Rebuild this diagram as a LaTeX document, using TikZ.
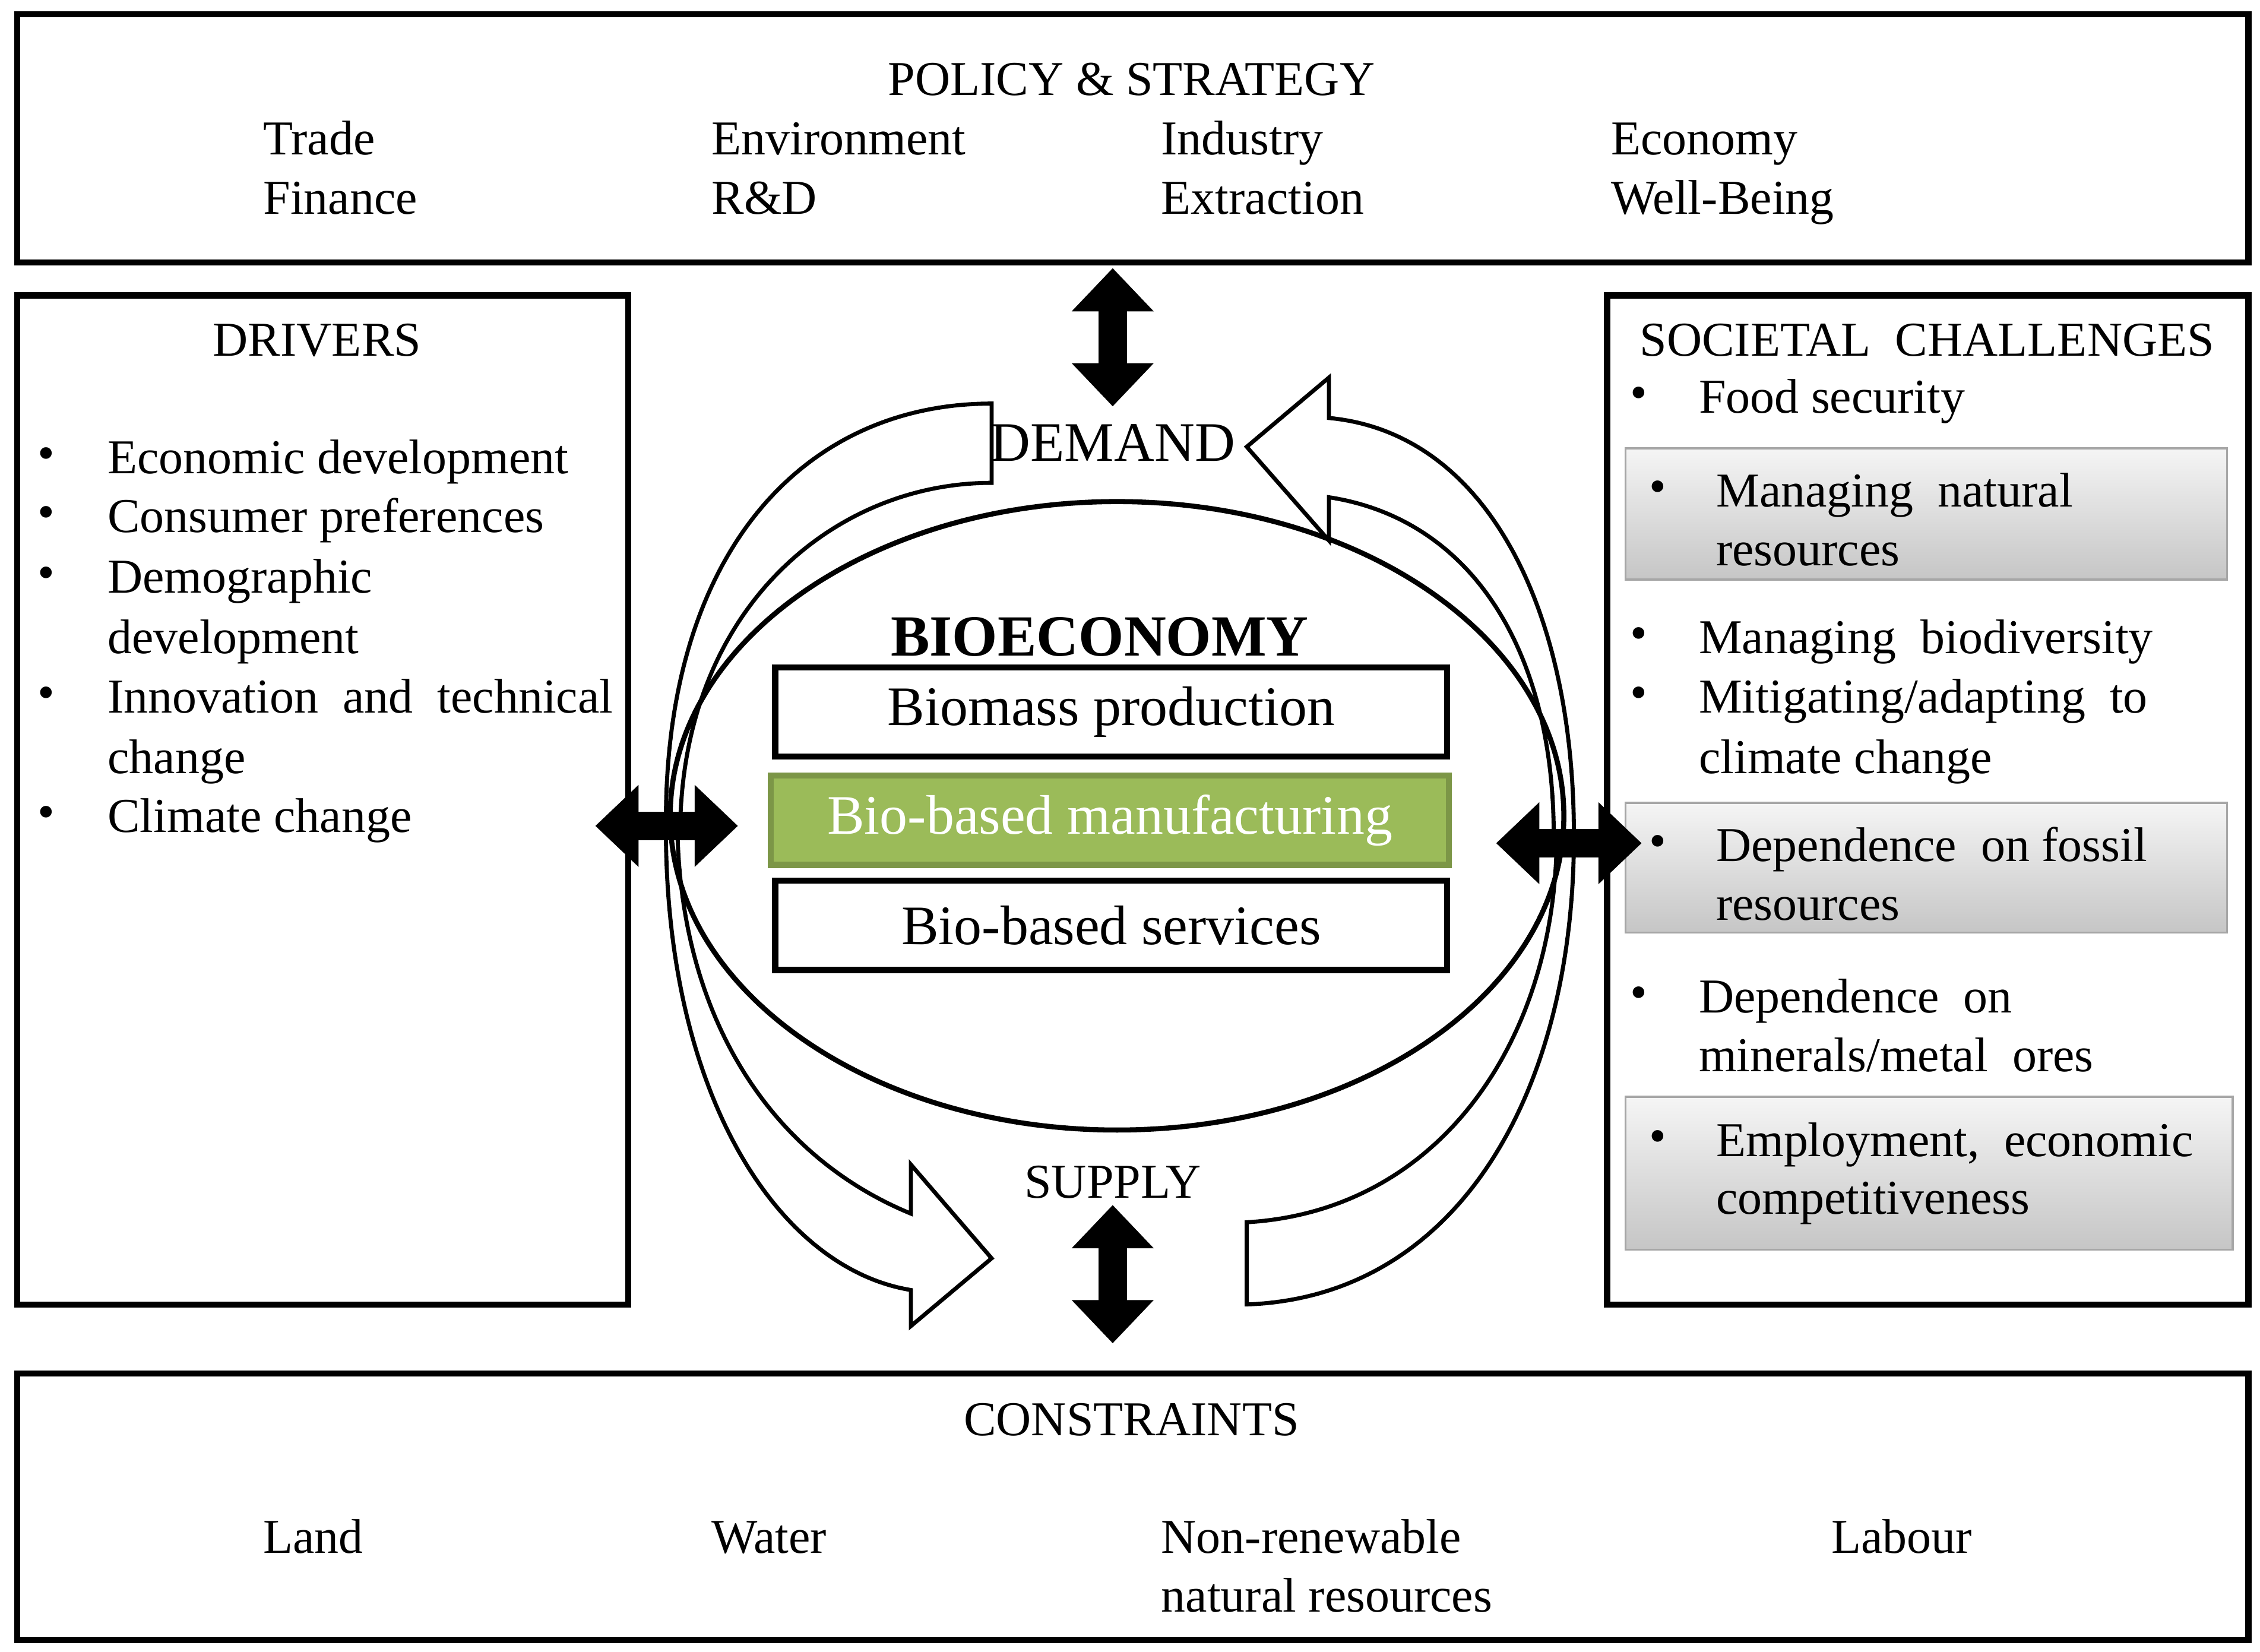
\documentclass[tikz,border=0pt]{standalone}
\usepackage{fontspec}
\setmainfont{Liberation Serif}
\usetikzlibrary{arrows.meta,positioning,shapes.geometric}
\definecolor{bioGreen}{RGB}{155,187,89}
\tikzset{
    % boxes
    frame/.style={draw=black, line width=1.2pt},
    txt/.style={anchor=base west, inner sep=0pt, yshift=-0.105cm, font=\fontsize{9.6}{12}\selectfont},
    head/.style={inner sep=0pt, font=\fontsize{9.6}{12}\selectfont},
    bul/.style={anchor=center, inner sep=0pt, font=\fontsize{9.6}{12}\selectfont},
    sector/.style={draw=black, line width=1.2pt, minimum width=4.66cm, minimum height=0.62cm,
        font=\fontsize{11}{13}\selectfont, inner sep=0pt},
    challenge/.style={draw=gray!70, top color=gray!8, bottom color=gray!45, inner sep=0pt},
    band/.style={draw=black, line width=0.8pt, fill=white},
    flow/.style={line width=2mm, {Triangle[length=3mm,width=5.5mm]}-{Triangle[length=3mm,width=5.5mm]}}
}
\begin{document}
\begin{tikzpicture}[x=0.01cm,y=-0.01cm]
    \useasboundingbox (0,0) rectangle (1568,1146);

    % Policy
    \draw[frame] (12,10) rectangle (1560,182);
    \node[head] (policy) at (785,55) {POLICY \& STRATEGY};
    \node[txt] (trade) at (182,97) {Trade};
    \node[txt] (env) at (493,97) {Environment};
    \node[txt] (ind) at (805,97) {Industry};
    \node[txt] (eco) at (1117,97) {Economy};
    \node[txt] (fin) at (182,138) {Finance};
    \node[txt] (rd) at (493,138) {R\&D};
    \node[txt] (ext) at (805,138) {Extraction};
    \node[txt] (well) at (1117,138) {Well-Being};

    % Drivers
    \draw[frame] (12,205) rectangle (436,905);
    \node[head] (drivers) at (220,236) {DRIVERS};
    \foreach \y in {318,359,401,484,567}
        \node[bul] at (32,\y) {\textbullet};
    \foreach \y/\t in {318/Economic development, 359/Consumer preferences,
        401/Demographic, 443/development, 484/Innovation\ \ and\ \ technical,
        526/change, 567/Climate change}
        \node[txt] at (74,\y) {\t};

    % Societal challenges
    \draw[frame] (1115,205) rectangle (1560,905);
    \node[head] (soc) at (1337,236) {SOCIETAL\ \ CHALLENGES};
    \node[challenge, minimum width=4.17cm, minimum height=0.91cm] (ch1) at (1336.5,356.5) {};
    \node[challenge, minimum width=4.17cm, minimum height=0.90cm] (ch2) at (1336.5,602) {};
    \node[challenge, minimum width=4.21cm, minimum height=1.06cm] (ch3) at (1338.5,814) {};
    \foreach \y in {276,443,484,692} \node[bul] at (1137,\y) {\textbullet};
    \foreach \y in {341,587,792} \node[bul] at (1150,\y) {\textbullet};
    \foreach \x/\y/\t in {1178/276/Food security, 1190/341/Managing\ \ natural, 1190/382/resources,
        1178/443/Managing\ \ biodiversity, 1178/484/{Mitigating/adapting\ \ to},
        1178/526/climate change, 1190/587/Dependence\ \ on fossil, 1190/628/resources,
        1178/692/Dependence\ \ on, 1178/733/{minerals/metal\ \ ores},
        1190/792/{Employment,\ \ economic}, 1190/832/competitiveness}
        \node[txt] at (\x,\y) {\t};

    % Constraints
    \draw[frame] (12,953) rectangle (1560,1138);
    \node[head] (cons) at (785,985) {CONSTRAINTS};
    \node[txt] (land) at (182,1067) {Land};
    \node[txt] (water) at (493,1067) {Water};
    \node[txt] (nonren) at (805,1067) {Non-renewable};
    \node[txt] (nat) at (805,1108) {natural resources};
    \node[txt] (labour) at (1270,1067) {Labour};

    % curved bands
    \draw[band] (462,570) .. controls (462,380) and (560,280) .. (688,280)
        -- (688,335) .. controls (580,335) and (476,420) .. (472,570) -- cycle;
    \draw[band] (865,310) -- (922,262) -- (922,290) .. controls (1030,300) and (1092,420) .. (1092,580)
        -- (1078,580) .. controls (1078,450) and (1020,360) .. (922,345) -- (922,375) -- cycle;
    \draw[band] (688,873) -- (632,808) -- (632,842) .. controls (530,800) and (472,700) .. (470,575)
        -- (462,575) .. controls (462,760) and (540,880) .. (632,895) -- (632,920) -- cycle;
    \draw[band] (865,848) .. controls (1000,840) and (1080,720) .. (1080,580)
        -- (1092,580) .. controls (1092,760) and (1010,900) .. (865,905) -- cycle;

    % bioeconomy
    \draw[line width=1pt] (775,566) ellipse [x radius=310, y radius=218];
    \node[head, font=\fontsize{11.5}{14}\selectfont\bfseries] (bio) at (763,442) {BIOECONOMY};
    \node[sector] (biomass) at (771,494) {Biomass production};
    \node[sector, fill=bioGreen, draw=bioGreen!80!black, text=white, minimum width=4.7cm] (manuf) at (770,569) {Bio-based manufacturing};
    \node[sector] (serv) at (771,642) {Bio-based services};
    \node[head, font=\fontsize{11}{13}\selectfont] (demand) at (772,307) {DEMAND};
    \node[head] (supply) at (772,820) {SUPPLY};

    % double arrows
    \coordinate (pT) at (772,186);
    \coordinate (dB) at (772,282);
    \coordinate (sT) at (772,836);
    \coordinate (cB) at (772,932);
    \coordinate (lL) at (413,573);
    \coordinate (lR) at (512,573);
    \coordinate (rL) at (1038,585);
    \coordinate (rR) at (1139,585);
    \draw[flow] (pT) -- (dB);
    \draw[flow] (sT) -- (cB);
    \draw[flow] (lL) -- (lR);
    \draw[flow] (rL) -- (rR);
\end{tikzpicture}
\end{document}
